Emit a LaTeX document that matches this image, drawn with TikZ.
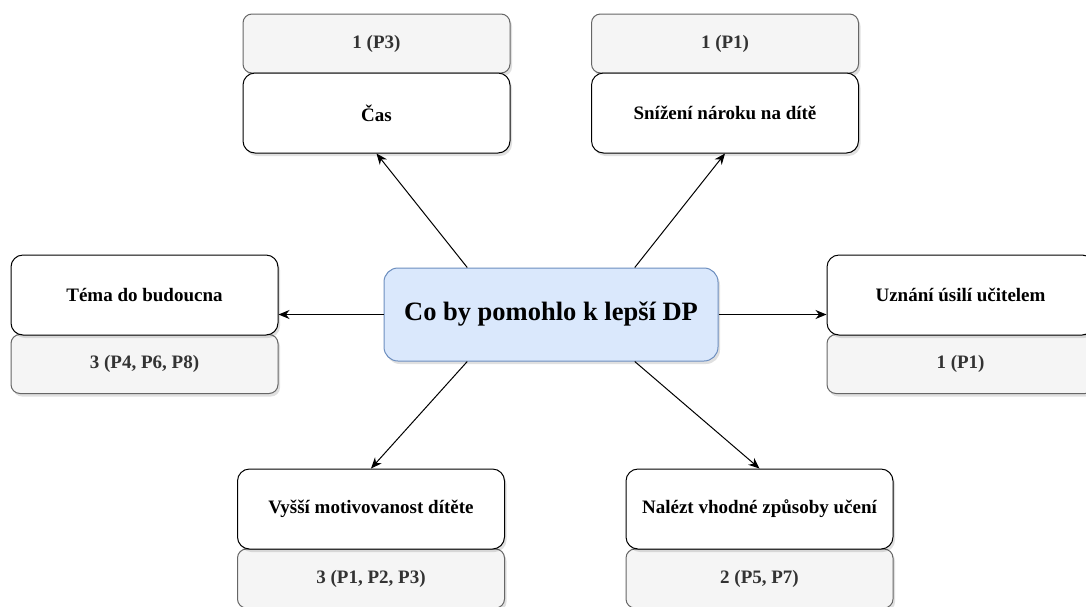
\documentclass[tikz,border=0pt]{standalone}
\usepackage{fontspec}
\setmainfont{Liberation Serif}
\usepackage{tikz}
\usetikzlibrary{arrows.meta}
\usetikzlibrary{calc}
\usetikzlibrary{shadows}

\definecolor{hubfill}{HTML}{DAE8FC}
\definecolor{hubline}{HTML}{6C8EBF}
\definecolor{countfill}{HTML}{F5F5F5}
\definecolor{countline}{HTML}{666666}
\definecolor{counttext}{HTML}{333333}

\begin{document}
\begin{tikzpicture}[x=1pt, y=-1pt,
    softshadow/.style={drop shadow={shadow xshift=2pt, shadow yshift=-3pt, opacity=0.12, fill=black}},
    itembox/.style={draw=black, line width=1pt, fill=white, rounded corners=12pt, minimum width=267pt, minimum height=80pt, font=\fontsize{19}{22}\selectfont\bfseries, softshadow},
    countbox/.style={draw=countline, line width=1pt, fill=countfill, rounded corners=9pt, minimum width=267pt, minimum height=59pt, text=counttext, font=\fontsize{19}{22}\selectfont\bfseries, softshadow},
    hubbox/.style={draw=hubline, line width=1pt, fill=hubfill, rounded corners=14pt, minimum width=334pt, minimum height=93pt, font=\fontsize{26.5}{30}\selectfont\bfseries, softshadow},
    link/.style={line width=1pt, -{Stealth[length=11pt, width=9pt]}}]
\useasboundingbox[fill=white] (0,0) rectangle (1086,606);

\node[anchor=center, countbox] (tlcount) at (376.5,43.5) {1 (P3)};
\node[anchor=center, itembox] (tlitem) at (376.5,113) {Čas};
\node[anchor=center, countbox] (trcount) at (725,43.5) {1 (P1)};
\node[anchor=center, itembox] (tritem) at (725,113) {Snížení nároku na dítě};
\node[anchor=center, countbox] (lfcount) at (144.5,364) {3 (P4, P6, P8)};
\node[anchor=center, itembox] (lfitem) at (144.5,295) {Téma do budoucna};
\node[anchor=center, countbox] (rtcount) at (960.5,364) {1 (P1)};
\node[anchor=center, itembox] (rtitem) at (960.5,295) {Uznání úsilí učitelem};
\node[anchor=center, countbox] (blcount) at (371,578.5) {3 (P1, P2, P3)};
\node[anchor=center, itembox] (blitem) at (371,509) {Vyšší motivovanost dítěte};
\node[anchor=center, countbox] (brcount) at (759.5,578.5) {2 (P5, P7)};
\node[anchor=center, itembox] (britem) at (759.5,509) {Nalézt vhodné způsoby učení};

\node[anchor=center, hubbox] (hub) at (551,314.5) {Co by pomohlo k lepší DP};

\draw[link] ($(hub.north west)!0.25!(hub.north east)$) -- (tlitem.south);
\draw[link] ($(hub.north west)!0.75!(hub.north east)$) -- (tritem.south);
\draw[link] (hub.west) -- (hub.west -| lfitem.east);
\draw[link] (hub.east) -- (hub.east -| rtitem.west);
\draw[link] ($(hub.south west)!0.25!(hub.south east)$) -- (blitem.north);
\draw[link] ($(hub.south west)!0.75!(hub.south east)$) -- (britem.north);
\end{tikzpicture}
\end{document}
